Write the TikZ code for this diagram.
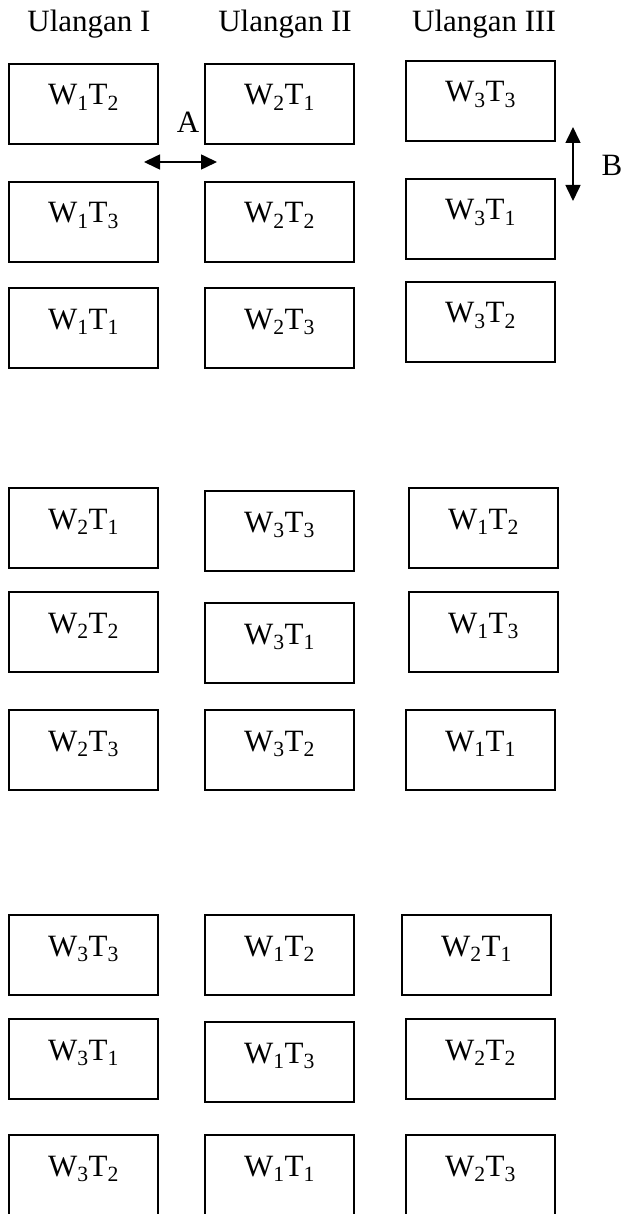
\documentclass[tikz,border=0pt]{standalone}
\usepackage{fontspec}
\setmainfont{Liberation Serif}
\usetikzlibrary{arrows.meta}
\tikzset{
  plotbox/.style={draw, line width=1.6pt, minimum width=149pt, minimum height=80pt, inner sep=0pt, outer sep=0pt, anchor=north west},
  lbl/.style={anchor=base, inner sep=0pt, font=\fontsize{31}{36}\selectfont},
  dblarrow/.style={{Triangle[length=16pt,width=15pt]}-{Triangle[length=16pt,width=15pt]}, line width=1.6pt}
}
\newcommand{\plotcell}[5]{%
  \node[plotbox] (#1) at (#2,-#3) {};
  \node[lbl] (#1t) at ([yshift=-41pt]#1.north) {W\textsubscript{#4}T\textsubscript{#5}};
}
\begin{document}
\begin{tikzpicture}[x=1pt,y=1pt]
\useasboundingbox (0,0) rectangle (622,-1214);
\clip (0,0) rectangle (622,-1214);
% headers
\node[lbl] (h1) at (89,-32) {Ulangan I};
\node[lbl] (h2) at (285,-32) {Ulangan II};
\node[lbl] (h3) at (484,-32) {Ulangan III};
% block 1
\plotcell{a11}{9}{64}{1}{2}
\plotcell{a12}{205}{64}{2}{1}
\plotcell{a13}{406}{61}{3}{3}
\plotcell{a21}{9}{182}{1}{3}
\plotcell{a22}{205}{182}{2}{2}
\plotcell{a23}{406}{179}{3}{1}
\plotcell{a31}{9}{288}{1}{1}
\plotcell{a32}{205}{288}{2}{3}
\plotcell{a33}{406}{282}{3}{2}
% block 2
\plotcell{b11}{9}{488}{2}{1}
\plotcell{b12}{205}{491}{3}{3}
\plotcell{b13}{409}{488}{1}{2}
\plotcell{b21}{9}{592}{2}{2}
\plotcell{b22}{205}{603}{3}{1}
\plotcell{b23}{409}{592}{1}{3}
\plotcell{b31}{9}{710}{2}{3}
\plotcell{b32}{205}{710}{3}{2}
\plotcell{b33}{406}{710}{1}{1}
% block 3
\plotcell{c11}{9}{915}{3}{3}
\plotcell{c12}{205}{915}{1}{2}
\plotcell{c13}{402}{915}{2}{1}
\plotcell{c21}{9}{1019}{3}{1}
\plotcell{c22}{205}{1022}{1}{3}
\plotcell{c23}{406}{1019}{2}{2}
\plotcell{c31}{9}{1135}{3}{2}
\plotcell{c32}{205}{1135}{1}{1}
\plotcell{c33}{406}{1135}{2}{3}
% distance arrows
\coordinate (aL) at (144,-162);
\coordinate (aR) at (217,-162);
\coordinate (bT) at (573,-127);
\coordinate (bB) at (573,-201);
\draw[dblarrow] (aL) -- (aR);
\draw[dblarrow] (bT) -- (bB);
\node[lbl] (labA) at (188,-133) {A};
\node[lbl] (labB) at (612,-176) {B};
\end{tikzpicture}
\end{document}
